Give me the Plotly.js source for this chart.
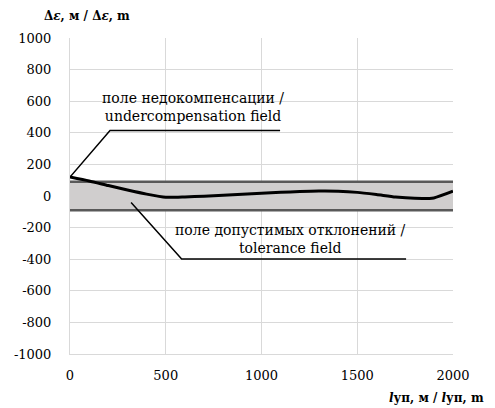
<!DOCTYPE html>
<html><head><meta charset="utf-8">
<script src="https://cdn.plot.ly/plotly-3.0.1.min.js"></script>
<style>body{margin:0;background:#fff}#chart{width:495px;height:408px}</style>
</head><body><div id="chart"></div>
<script>
// Data
const lengthM = [0,100,200,300,400,500,600,700,800,900,1000,1100,1200,1300,1400,1500,1600,1700,1800,1900,2000];
const deviation = [120,95,66,38,12,-8,-6,-1,5,11,17,23,28,31,30,23,9,-7,-15,-12,30];
const bandX = [0,2000];
const bandUpper = [90,90];
const bandLower = [-90,-90];
const xTicks = [0,500,1000,1500,2000];
const xTickText = ['0','500','1000','1500','2000'];
const yTicks = [-1000,-800,-600,-400,-200,0,200,400,600,800,1000];
const yTickText = ['-1000','-800','-600','-400','-200','0','200','400','600','800','1000'];
const labelUnder = "поле недокомпенсации /<br>undercompensation field";
const labelTol = "поле допустимых отклонений /<br>tolerance field";

const FONT = 'DejaVu Serif';
const traces = [
  {x: bandX, y: bandLower, mode:'lines', line:{color:'#595959', width:2.5}, hoverinfo:'skip', showlegend:false},
  {x: bandX, y: bandUpper, mode:'lines', fill:'tonexty', fillcolor:'#d0cece', line:{color:'#595959', width:2.5}, hoverinfo:'skip', showlegend:false},
  {x: lengthM, y: deviation, mode:'lines', line:{color:'#000', width:3, shape:'spline', smoothing:0.6}, showlegend:false}
];
const layout = {
  width:495, height:408,
  margin:{l:70, r:42, t:37.5, b:53.5},
  paper_bgcolor:'#fff', plot_bgcolor:'#fff',
  font:{family:FONT, size:13, color:'#000'},
  showlegend:false,
  xaxis:{range:[0,2000], tickvals:xTicks, ticktext:xTickText, showgrid:true, gridcolor:'#d9d9d9', gridwidth:1, zeroline:false,
         showline:true, linecolor:'#d9d9d9', ticks:'', ticklabelstandoff:9, fixedrange:true, tickfont:{family:FONT, size:13}},
  yaxis:{range:[-1000,1000], tickvals:yTicks, ticktext:yTickText, showgrid:true, gridcolor:'#d9d9d9', gridwidth:1, zeroline:false,
         showline:true, linecolor:'#d9d9d9', ticks:'', ticklabelstandoff:15, fixedrange:true, tickfont:{family:FONT, size:13}},
  shapes:[
    {type:'path', xref:'x', yref:'y', path:'M 0 120 L 209 414 L 1097 414', line:{color:'#000', width:1.5}},
    {type:'path', xref:'x', yref:'y', path:'M 319 -41 L 583 -398 L 1755 -398', line:{color:'#000', width:1.5}}
  ],
  annotations:[
    {xref:'x', yref:'y', x:642, y:565, text:labelUnder, showarrow:false, font:{family:FONT, size:14}, align:'center'},
    {xref:'x', yref:'y', x:1154, y:-270, text:labelTol, showarrow:false, font:{family:FONT, size:14}, align:'center'},
    {xref:'paper', yref:'paper', x:0.044, y:1.07, xanchor:'center', yanchor:'middle', showarrow:false,
     text:'<b>Δ<i>ε</i>, м / Δ<i>ε</i>, m</b>', font:{family:FONT, size:12}},
    {xref:'paper', yref:'paper', x:1.085, y:-0.14, xanchor:'right', yanchor:'middle', showarrow:false,
     text:'<b><i>l</i>уп, м / <i>l</i>уп, m</b>', font:{family:FONT, size:12}}
  ]
};
Plotly.newPlot('chart', traces, layout, {staticPlot:true, displayModeBar:false});
</script></body></html>
